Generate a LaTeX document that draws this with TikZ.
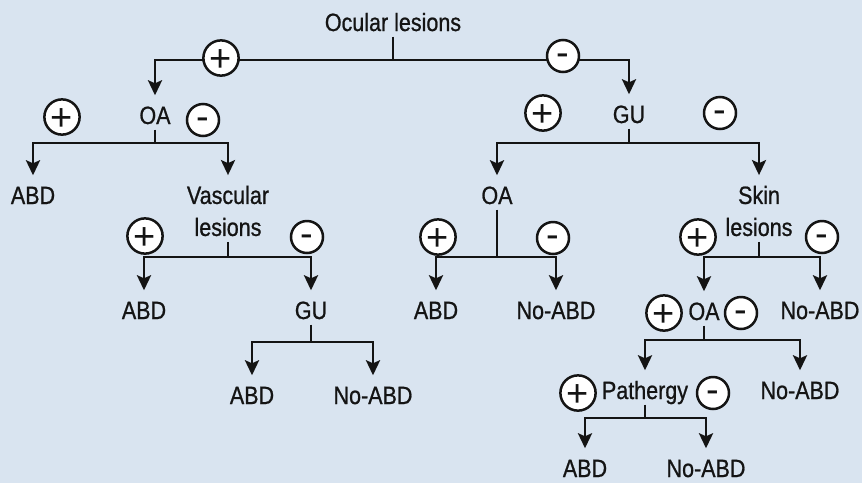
\documentclass[tikz,border=0pt]{standalone}
\usepackage{fontspec}
\setmainfont{Liberation Sans}[FakeStretch=0.86, FakeBold=0.8]
\newfontfamily\signfont{Liberation Sans}
\usetikzlibrary{arrows.meta}
\definecolor{bgblue}{RGB}{217,228,240}
\definecolor{ink}{RGB}{20,20,20}

\begin{document}
\begin{tikzpicture}[x=1pt, y=-1pt,
    lbl/.style={font=\fontsize{25}{32}\selectfont, text=ink, inner xsep=0pt, inner ysep=5.5pt, text height=18pt, text depth=0pt},
    lbl2/.style={font=\fontsize{25}{32}\selectfont, text=ink, inner xsep=0pt, inner ysep=5.5pt, align=center},
    ln/.style={draw=ink, line width=2.8pt},
    arr/.style={ln, -{Stealth[length=15pt, width=14pt, inset=3pt]}, shorten >=5pt},
    sgn/.style={circle, draw=ink, fill=white, line width=2.5pt, minimum size=32pt, inner sep=0pt, text=ink, font=\signfont\fontsize{38}{38}\selectfont, text depth=0pt},
    pls/.style={sgn, text height=27.4pt},
    mns/.style={sgn, text height=19pt}
]
\path[use as bounding box, fill=bgblue] (0,0) rectangle (862,483);

% left half
\node[lbl] (ocular) at (393,22) {Ocular lesions};
\node[lbl] (oaA) at (155,115) {OA};
\node[lbl] (abdA) at (33,195) {ABD};
\node[lbl2] (vasc) at (228,211) {Vascular\\lesions};
\node[lbl] (abdB) at (144,310) {ABD};
\node[lbl] (guB) at (311,310) {GU};
\node[lbl] (abdC) at (252,395) {ABD};
\node[lbl] (noC) at (373,395) {No-ABD};

% right half
\node[lbl] (guA) at (629,114) {GU};
\node[lbl] (oaB) at (497,195) {OA};
\node[lbl2] (skin) at (759,211) {Skin\\lesions};
\node[lbl] (abdD) at (436,310) {ABD};
\node[lbl] (noD) at (556,310) {No-ABD};
\node[lbl] (oaC) at (704,311) {OA};
\node[lbl] (noE) at (820,310) {No-ABD};
\node[lbl] (path) at (645,390) {Pathergy};
\node[lbl] (noF) at (800,390) {No-ABD};
\node[lbl] (abdG) at (585,468) {ABD};
\node[lbl] (noG) at (706,468) {No-ABD};

% branch points
\coordinate (j0) at (393,60);
\coordinate (j1) at (155,143);
\coordinate (j2) at (228,257);
\coordinate (j3) at (311,342);
\coordinate (j4) at (629,143);
\coordinate (j5) at (497,257);
\coordinate (j6) at (759,257);
\coordinate (j7) at (704,340);
\coordinate (j8) at (645,418);

\draw[ln] (ocular) -- (j0);
\draw[arr] (j0) -| (oaA);
\draw[arr] (j0) -| (guA);

\draw[ln] (oaA) -- (j1);
\draw[arr] (j1) -| (abdA);
\draw[arr] (j1) -| (vasc);

\draw[ln] (vasc) -- (j2);
\draw[arr] (j2) -| (abdB);
\draw[arr] (j2) -| (guB);

\draw[ln] (guB) -- (j3);
\draw[arr] (j3) -| (abdC);
\draw[arr] (j3) -| (noC);

\draw[ln] (guA) -- (j4);
\draw[arr] (j4) -| (oaB);
\draw[arr] (j4) -| (skin);

\draw[ln] (oaB) -- (j5);
\draw[arr] (j5) -| (abdD);
\draw[arr] (j5) -| (noD);

\draw[ln] (skin) -- (j6);
\draw[arr] (j6) -| (oaC);
\draw[arr] (j6) -| (noE);

\draw[ln] (oaC) -- (j7);
\draw[arr] (j7) -| (path);
\draw[arr] (j7) -| (noF);

\draw[ln] (path) -- (j8);
\draw[arr] (j8) -| (abdG);
\draw[arr] (j8) -| (noG);

% signs
\node[pls] (p0) at (221,58) {+};
\node[mns] (m0) at (563,56) {-};
\node[pls] (p1) at (62,117) {+};
\node[mns] (m1) at (203,120) {-};
\node[pls] (p2) at (145,236) {+};
\node[mns] (m2) at (307,237) {-};
\node[pls] (p4) at (543,113) {+};
\node[mns] (m4) at (720,113) {-};
\node[pls] (p5) at (438,237) {+};
\node[mns] (m5) at (553,238) {-};
\node[pls] (p6) at (698,237) {+};
\node[mns] (m6) at (822,237) {-};
\node[pls] (p7) at (664,313) {+};
\node[mns] (m7) at (741,313) {-};
\node[pls] (p8) at (578,393) {+};
\node[mns] (m8) at (713,393) {-};
\end{tikzpicture}
\end{document}
